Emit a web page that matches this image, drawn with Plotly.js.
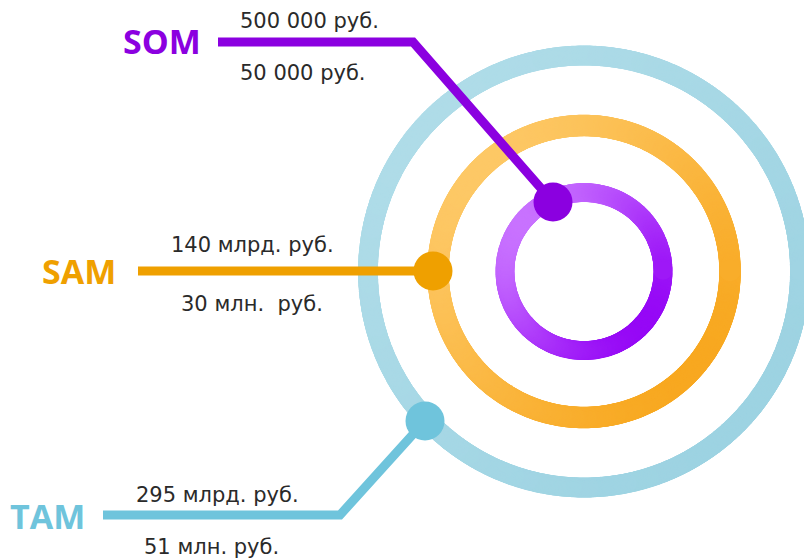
<!DOCTYPE html>
<html>
<head>
<meta charset="utf-8">
<script src="https://cdn.plot.ly/plotly-3.0.1.min.js"></script>
<style>html,body{margin:0;padding:0;background:#fff;}#chart{width:804px;height:558px;}</style>
</head>
<body>
<div id="chart"></div>
<script>
// ---- data ----
const segments = ['SOM', 'SAM', 'TAM'];
const upperValues = ['500 000 руб.', '140 млрд. руб.', '295 млрд. руб.'];
const lowerValues = ['50 000 руб.', '30 млн.\u00a0 руб.', '51 млн. руб.'];
const segmentColors = ['#8b00e0', '#efa000', '#6fc4dc'];

// ---- layout geometry (pixel space) ----
const W = 804, H = 558;
const center = {x: 584, y: 271.5};
const rings = [
  {r: 79, w: 19, c0: '#c872ff', c1: '#9608f6'},
  {r: 146, w: 21.5, c0: '#fdc866', c1: '#f8a820'},
  {r: 216, w: 20, c0: '#afdce8', c1: '#9dd3e2'}
];
const leaders = [
  {x: [218, 413, 553], y: [42, 42, 202]},
  {x: [138, 433], y: [271, 271]},
  {x: [103, 340, 425], y: [515, 515, 421]}
];
const labelPos = [{x: 162, y: 41}, {x: 79, y: 271}, {x: 47, y: 516}];
const upperPos = [{x: 309, y: 21}, {x: 252, y: 245}, {x: 217, y: 495}];
const lowerPos = [{x: 303, y: 73}, {x: 252, y: 304}, {x: 211, y: 547}];

const traces = [];
rings.forEach(ring => {
  const n = Math.ceil(2 * Math.PI * ring.r / 1.2);
  const xs = [], ys = [], cs = [];
  for (let i = 0; i < n; i++) {
    const a = 2 * Math.PI * i / n;
    const dx = ring.r * Math.cos(a), dy = ring.r * Math.sin(a);
    xs.push(center.x + dx); ys.push(center.y + dy);
    cs.push((dx + dy) / (Math.SQRT2 * ring.r));
  }
  traces.push({
    type: 'scatter', mode: 'markers', x: xs, y: ys, hoverinfo: 'skip',
    marker: {size: ring.w, color: cs, cmin: -1, cmax: 1,
      colorscale: [[0, ring.c0], [1, ring.c1]], line: {width: 0}, showscale: false}
  });
});
leaders.forEach((ld, i) => {
  traces.push({type: 'scatter', mode: 'lines', x: ld.x, y: ld.y, hoverinfo: 'skip',
    line: {color: segmentColors[i], width: 9}});
});
leaders.forEach((ld, i) => {
  traces.push({type: 'scatter', mode: 'markers', x: [ld.x[ld.x.length - 1]], y: [ld.y[ld.y.length - 1]],
    hoverinfo: 'skip', marker: {size: 39, color: segmentColors[i], line: {width: 0}}});
});

const annotations = [];
segments.forEach((s, i) => {
  annotations.push({x: labelPos[i].x, y: labelPos[i].y, text: '<b>' + s + '</b>', showarrow: false,
    xanchor: 'center', yanchor: 'middle',
    font: {family: 'Open Sans', size: 34, color: segmentColors[i]}});
  annotations.push({x: upperPos[i].x, y: upperPos[i].y, text: upperValues[i], showarrow: false,
    xanchor: 'center', yanchor: 'middle',
    font: {family: 'DejaVu Sans', size: 21, color: '#2a2a2a'}});
  annotations.push({x: lowerPos[i].x, y: lowerPos[i].y, text: lowerValues[i], showarrow: false,
    xanchor: 'center', yanchor: 'middle',
    font: {family: 'DejaVu Sans', size: 21, color: '#2a2a2a'}});
});

const layout = {
  width: W, height: H,
  margin: {l: 0, r: 0, t: 0, b: 0},
  paper_bgcolor: '#ffffff', plot_bgcolor: '#ffffff',
  showlegend: false,
  xaxis: {range: [0, W], visible: false, fixedrange: true},
  yaxis: {range: [H, 0], visible: false, fixedrange: true},
  annotations: annotations
};
Plotly.newPlot('chart', traces, layout, {displayModeBar: false, staticPlot: true});
</script>
</body>
</html>
